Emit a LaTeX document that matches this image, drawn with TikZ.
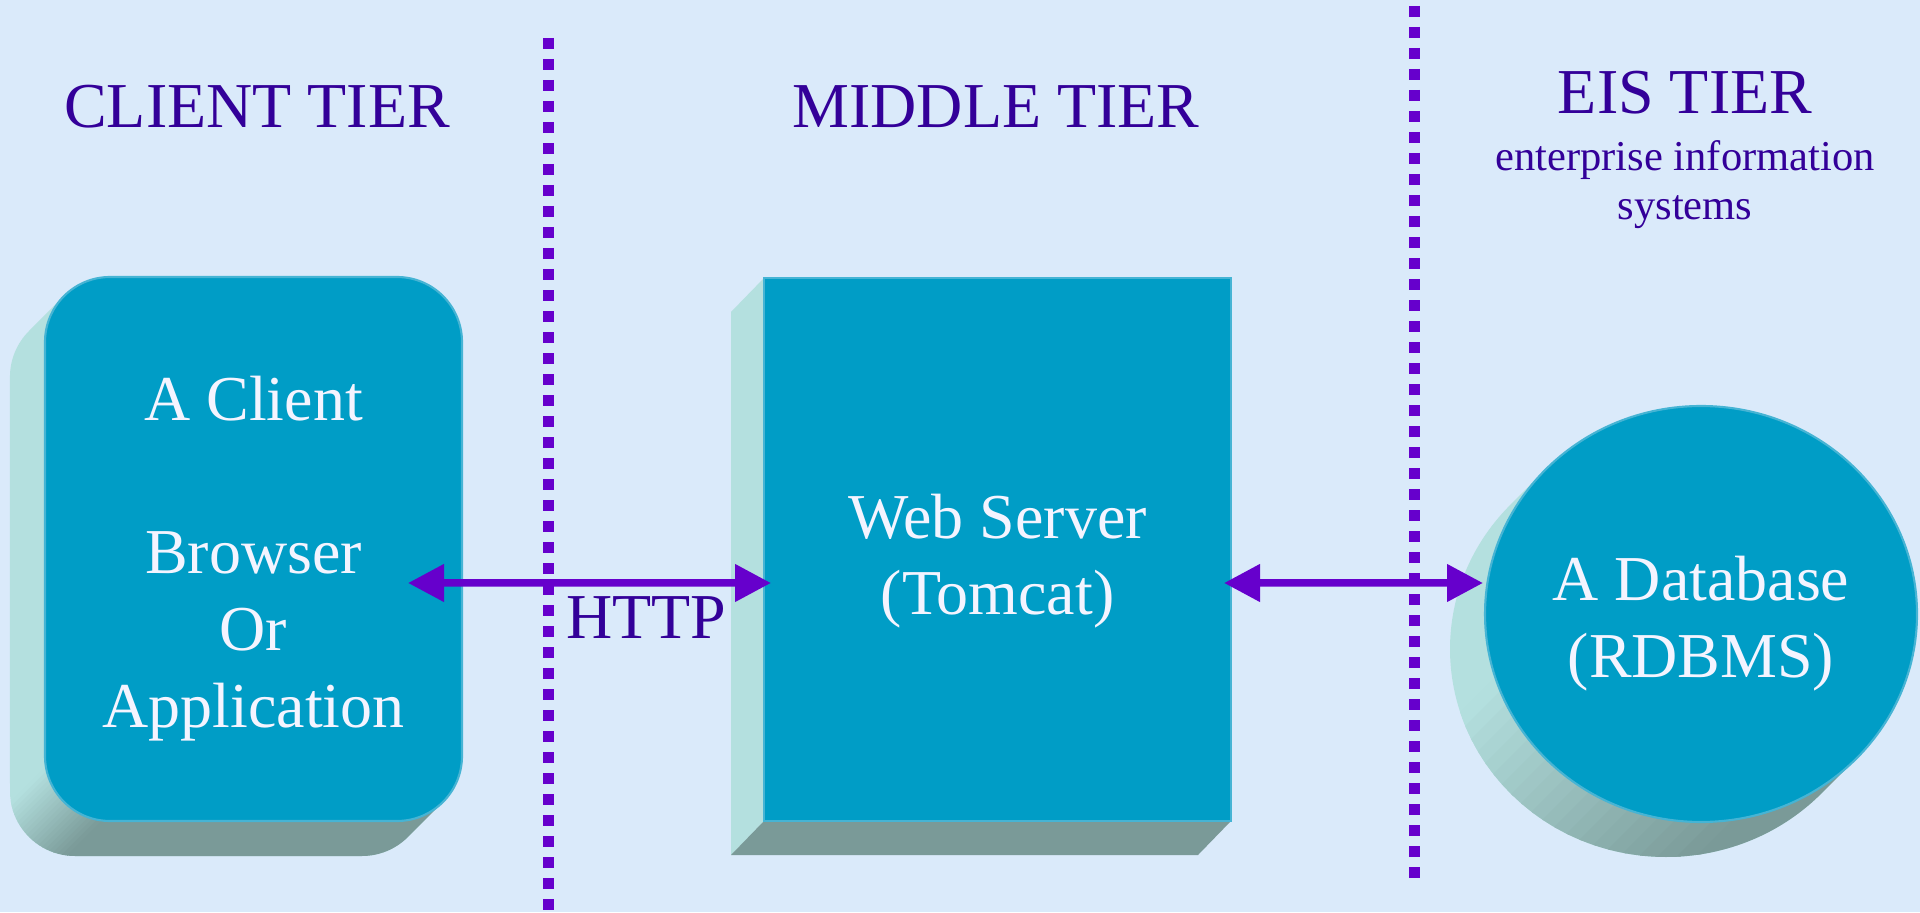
\documentclass[tikz,border=0pt]{standalone}
\usepackage{fontspec}
\setmainfont{Liberation Serif}
\usetikzlibrary{arrows.meta,shapes.geometric}

\definecolor{bgblue}{HTML}{DAEAFA}
\definecolor{boxteal}{HTML}{009DC6}
\definecolor{boxedge}{HTML}{46B4D4}
\definecolor{sidelight}{HTML}{B4E0DF}
\definecolor{sidedark}{HTML}{7A9A98}
\definecolor{tierink}{HTML}{330099}
\definecolor{linkpurple}{HTML}{6600CC}
\definecolor{boxink}{HTML}{F4F4FF}

\tikzstyle{tierbox} = [rectangle, fill=boxteal, draw=boxedge, line width=0.6pt, outer sep=0pt, inner sep=0pt]
\tikzstyle{clientbox} = [tierbox, rounded corners=0.65cm, minimum width=4.17cm, minimum height=5.44cm]
\tikzstyle{serverbox} = [tierbox, minimum width=4.67cm, minimum height=5.43cm]
\tikzstyle{dbdisc} = [tierbox, ellipse, minimum width=4.32cm, minimum height=4.16cm]
\tikzstyle{boxlabel} = [text=boxink, align=center, anchor=base, inner sep=0pt, font=\fontsize{18.2}{21.8}\selectfont]
\tikzstyle{tiertitle} = [text=tierink, align=center, anchor=base, inner sep=0pt, font=\fontsize{18.2}{21.8}\selectfont]
\tikzstyle{tiernote} = [text=tierink, align=center, anchor=base, inner sep=0pt, font=\fontsize{12.1}{14.0}\selectfont]
\tikzstyle{divider} = [linkpurple, line width=0.11cm, dash pattern=on 0.11cm off 0.10cm]
\tikzstyle{link} = [linkpurple, line width=0.075cm, {Triangle[length=0.36cm,width=0.36cm]}-{Triangle[length=0.36cm,width=0.36cm]}]

\newcommand{\sidepaint}[2]{%
  \fill[sidelight] (-1,-1) rectangle (20,10);
  \foreach \k in {0,...,19} {
    \pgfmathsetmacro{\sa}{#1+(#2-(#1))*\k/20}
    \pgfmathsetmacro{\sb}{#1+(#2-(#1))*(\k+1.2)/20}
    \pgfmathtruncatemacro{\mixpct}{5*\k+2}
    \fill[sidedark!\mixpct!sidelight] (\sa-1,-1) -- (\sa+10,10) -- (\sb+10,10) -- (\sb-1,-1) -- cycle;
  }
  \fill[sidedark] (#2-1,-1) -- (#2+10,10) -- (25,10) -- (25,-1) -- cycle;
}

\begin{document}
\begin{tikzpicture}
      \useasboundingbox (0,0) rectangle (19.2,9.12);
      \fill[bgblue] (0,0) rectangle (19.2,9.12);

      \begin{scope}
        \clip (0.640,6.160) -- ++(-0.35,-0.35) arc[start angle=135, end angle=180, radius=0.65]
          -- (0.10,1.21) arc[start angle=180, end angle=270, radius=0.65]
          -- (3.62,0.56) arc[start angle=270, end angle=315, radius=0.65]
          -- ++(0.35,0.35) arc[start angle=315, end angle=360, radius=0.65]
          -- (4.62,5.70) arc[start angle=0, end angle=90, radius=0.65]
          -- (1.10,6.35) arc[start angle=90, end angle=135, radius=0.65] -- cycle;
        \sidepaint{-1.0}{0.1}
      \end{scope}

      \fill[sidelight] (7.64,6.34) -- (7.31,6.00) -- (7.31,0.57) -- (7.64,0.91) -- cycle;
      \fill[sidedark] (7.64,0.91) -- (7.31,0.57) -- (11.98,0.57) -- (12.31,0.91) -- cycle;

      \begin{scope}
        \clip (17.01,2.98) ++(315:2.16cm and 2.08cm) arc[start angle=315, end angle=495, x radius=2.16, y radius=2.08]
          -- ++(-0.35,-0.35) arc[start angle=135, end angle=315, x radius=2.16, y radius=2.08] -- cycle;
        \sidepaint{12.6}{16.4}
      \end{scope}

      \node[clientbox] (client) at (2.535,3.63) {};
      \node[serverbox] (server) at (9.975,3.625) {};
      \node[dbdisc] (db) at (17.01,2.98) {};

      \draw[divider] (5.485,8.74) -- (5.485,0);
      \draw[divider] (14.145,9.06) -- (14.145,0.28);

      \node[tiertitle] (clienttier) at (2.57,7.84) {CLIENT TIER};
      \node[tiertitle] (middletier) at (9.96,7.84) {MIDDLE TIER};
      \node[tiertitle] (eistier) at (16.85,7.985) {EIS TIER};
      \node[tiernote] (eisnote) at (16.85,6.925) {enterprise information\\systems};

      \node[boxlabel] (clienttext) at ([yshift=-1.78cm]client.center) {A Client\\[21.8pt]Browser\\Or\\Application};
      \node[boxlabel] (servertext) at ([yshift=-0.655cm]server.center) {Web Server\\(Tomcat)};
      \node[boxlabel] (dbtext) at ([yshift=-0.63cm]db.center) {A Database\\(RDBMS)};

      \draw[link] ([shift={(-0.54,-0.34)}]client.east) -- ([shift={(0.07,-0.335)}]server.west);
      \draw[link] ([shift={(-0.07,-0.335)}]server.east) -- ([shift={(-0.02,0.31)}]db.west);
      \node[tiertitle] (http) at (6.465,2.74) {HTTP};
\end{tikzpicture}
\end{document}
